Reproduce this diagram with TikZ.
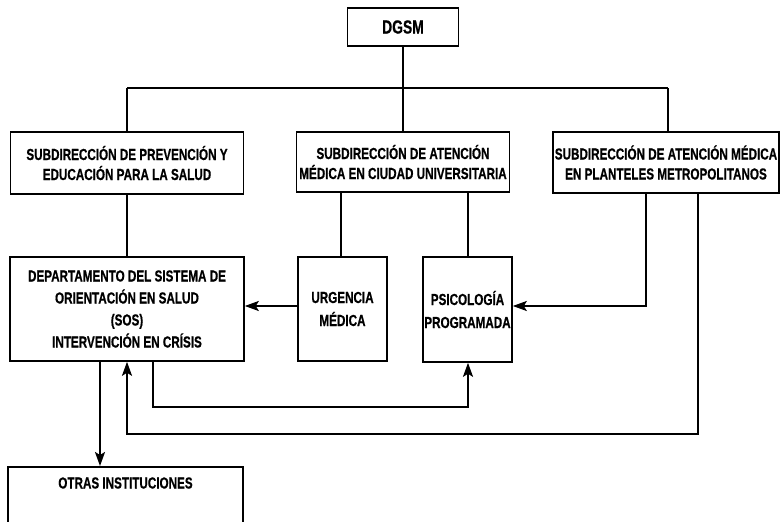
\documentclass[tikz,border=0pt]{standalone}
\usepackage{fontspec}
\setmainfont{Liberation Sans Bold}[FakeStretch=0.73, FakeBold=0.6]
\usetikzlibrary{arrows.meta}
\begin{document}
\begin{tikzpicture}[x=1pt,y=-1pt,
  lbl/.style={inner sep=0pt, align=center, font=\fontsize{16}{20}\selectfont},
  box/.style={lbl, draw, line width=1.6pt, rectangle},
  conn/.style={line width=2pt},
  arr/.style={conn, -{Stealth[length=14pt,width=10pt,inset=3pt]}}]
\useasboundingbox (0,0) rectangle (782,522);
\clip (0,0) rectangle (782,522);
\fill[white] (0,0) rectangle (782,522);
% nodes
\node[box, minimum width=111pt, minimum height=38pt, font=\fontsize{19}{22}\selectfont] (dgsm) at (403,27) {DGSM};
\node[box, minimum width=233pt, minimum height=62pt] (s1) at (127,163) {SUBDIRECCIÓN DE PREVENCIÓN Y\\EDUCACIÓN PARA LA SALUD};
\node[box, minimum width=213pt, minimum height=60pt] (s2) at (403,162) {SUBDIRECCIÓN DE ATENCIÓN\\MÉDICA EN CIUDAD UNIVERSITARIA};
\node[box, minimum width=226pt, minimum height=61pt] (s3) at (666,162.5) {SUBDIRECCIÓN DE ATENCIÓN MÉDICA\\EN PLANTELES METROPOLITANOS};
\node[box, minimum width=234pt, minimum height=104pt] (dep) at (127,309) {DEPARTAMENTO DEL SISTEMA DE\\[2pt]ORIENTACIÓN EN SALUD\\[2pt](SOS)\\[2pt]INTERVENCIÓN EN CRÍSIS};
\node[box, minimum width=89pt, minimum height=104pt] (urg) at (342.5,309) {URGENCIA\\[3pt]MÉDICA};
\node[box, minimum width=89pt, minimum height=105pt] (psi) at (467.5,309.5) {PSICOLOGÍA\\[3pt]PROGRAMADA};
\node[box, anchor=north, minimum width=235pt, minimum height=80pt,
  label={[lbl, anchor=center, yshift=-17pt]north:OTRAS INSTITUCIONES}] (otras) at (125.5,466) {};
% coordinates
\coordinate (busL) at (127,88);
\coordinate (busM) at (403,88);
\coordinate (busR) at (668,88);
\coordinate (x2) at (341,0);
\coordinate (x3) at (468,0);
\coordinate (r1) at (646,306);
\coordinate (r2) at (698,434);
\coordinate (l2) at (127,434);
\coordinate (r3) at (468,407);
\coordinate (l3) at (153,407);
\coordinate (o1) at (100,0);
\coordinate (u1) at (0,306);
% connectors
\draw[conn] (dgsm.south) -- (busM);
\draw[conn] (busL) -- (busR);
\draw[conn] (busL) -- (busL |- s1.north);
\draw[conn] (busM) -- (busM |- s2.north);
\draw[conn] (busR) -- (busR |- s3.north);
\draw[conn] (s1.south) -- (s1.south |- dep.north);
\draw[conn] (s2.south -| x2) -- (urg.north -| x2);
\draw[conn] (s2.south -| x3) -- (psi.north -| x3);
\draw[arr] (urg.west |- u1) -- (dep.east |- u1);
\draw[arr] (s3.south -| r1) |- (psi.east |- r1);
\draw[arr] (s3.south -| r2) |- (l2) -- (dep.south -| l2);
\draw[arr] (dep.south -| l3) |- (r3) -- (psi.south -| r3);
\draw[arr] (dep.south -| o1) -- (otras.north -| o1);
\end{tikzpicture}
\end{document}
